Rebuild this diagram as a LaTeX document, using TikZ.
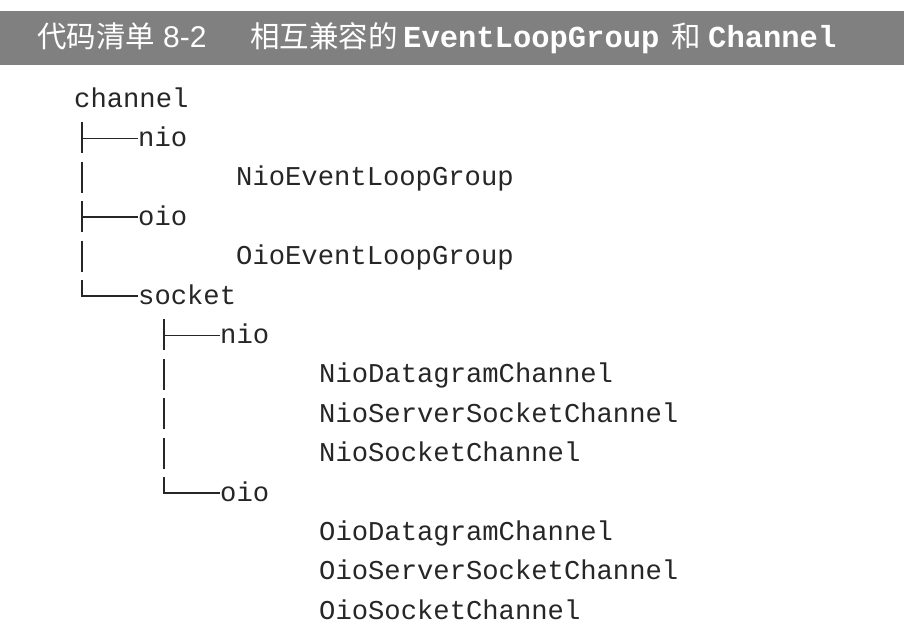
\documentclass[tikz,border=0pt]{standalone}
\usepackage{fontspec}
\setmainfont{Liberation Sans}
\newfontfamily\cjk{Noto Sans CJK SC}
\newfontfamily\codefont{Liberation Mono}
\newfontfamily\titlemono{Liberation Mono}
\definecolor{bar}{HTML}{808080}
\definecolor{ink}{HTML}{262626}
\begin{document}
\begin{tikzpicture}[x=1pt,y=-1pt,
  code/.style={anchor=base west,inner sep=0pt,text=ink,font=\codefont\fontsize{27.2}{30}\selectfont},
  ttl/.style={anchor=base west,inner sep=0pt,text=white},
  tcjk/.style={ttl,font=\cjk\fontsize{29.5}{31}\selectfont},
  tsans/.style={ttl,font=\fontsize{30}{32}\selectfont},
  tmono/.style={ttl,font=\titlemono\bfseries\fontsize{30.5}{32}\selectfont},
  tree/.style={draw=ink,line width=1.8pt}]
\useasboundingbox (0,0) rectangle (904,643);
\fill[bar] (0,11) rectangle (904,65);
% title
\node[tcjk]  (t1) at (37,47)  {代码清单};
\node[tsans] (t2) at (163,47) {8-2};
\node[tcjk]  (t3) at (250,47) {相互兼容的};
\node[tmono] (t4) at (403,47) {EventLoopGroup};
\node[tcjk]  (t5) at (671,47) {和};
\node[tmono] (t6) at (708,47) {Channel};
% code lines
\node[code] (channel) at (74,107)   {channel};
\node[code] (nioA)    at (138,146.4) {nio};
\node[code] (nelg)    at (236,185.8) {NioEventLoopGroup};
\node[code] (oioA)    at (138,225.2) {oio};
\node[code] (oelg)    at (236,264.6) {OioEventLoopGroup};
\node[code] (socket)  at (138,304)   {socket};
\node[code] (nioB)    at (220,343.4) {nio};
\node[code] (ndc)     at (319,382.8) {NioDatagramChannel};
\node[code] (nssc)    at (319,422.2) {NioServerSocketChannel};
\node[code] (nsc)     at (319,461.6) {NioSocketChannel};
\node[code] (oioB)    at (220,501)   {oio};
\node[code] (odc)     at (319,540.4) {OioDatagramChannel};
\node[code] (ossc)    at (319,579.8) {OioServerSocketChannel};
\node[code] (osc)     at (319,619.2) {OioSocketChannel};
% tree, level 1
\foreach \b in {146.4,185.8,225.2,264.6}
  \draw[tree] (82,{\b-24}) -- (82,{\b+7});
\draw[tree] (82,{304-24}) |- ([yshift=8pt]socket.base west);
\draw[tree] (82,{146.4-8}) -- ([yshift=8pt]nioA.base west);
\draw[tree] (82,{225.2-8}) -- ([yshift=8pt]oioA.base west);
% tree, level 2
\foreach \b in {343.4,382.8,422.2,461.6}
  \draw[tree] (164,{\b-24}) -- (164,{\b+7});
\draw[tree] (164,{501-24}) |- ([yshift=8pt]oioB.base west);
\draw[tree] (164,{343.4-8}) -- ([yshift=8pt]nioB.base west);
\end{tikzpicture}
\end{document}
